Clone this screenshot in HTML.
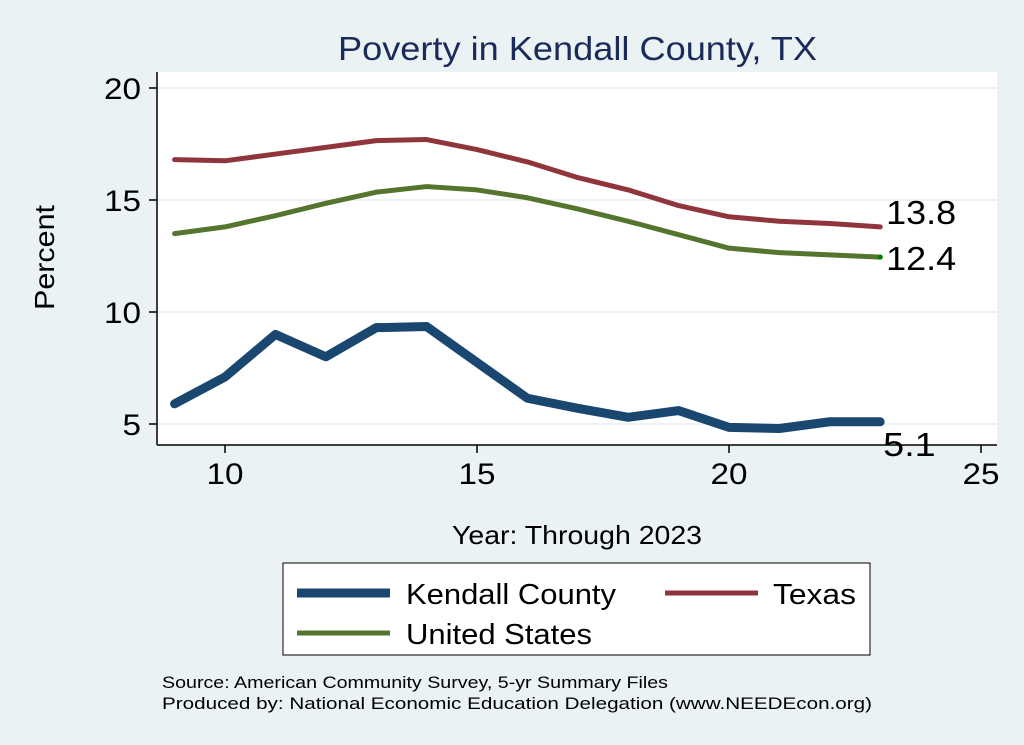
<!DOCTYPE html>
<html><head><meta charset="utf-8"><style>
body{margin:0;background:#eaf2f3;}
svg{display:block;font-family:"Liberation Sans",sans-serif;}
</style></head><body>
<svg id="chart" width="1024" height="745" viewBox="0 0 1024 745">
<rect x="0" y="0" width="1024" height="745" fill="#eaf2f3"/>
<rect x="157" y="72" width="840" height="373" fill="#ffffff"/>
<text x="338" y="60" font-size="33" textLength="479" lengthAdjust="spacingAndGlyphs" fill="#1a2a5a">Poverty in Kendall County, TX</text>
<g id="grid"></g>
<g id="series"></g>
<line x1="157" y1="72" x2="157" y2="445" stroke="#000" stroke-width="1.5"/>
<line x1="157" y1="445" x2="997" y2="445" stroke="#000" stroke-width="1.5"/>
<g id="axes"></g>
<text x="54" y="310" font-size="28" textLength="105" lengthAdjust="spacingAndGlyphs" transform="rotate(-90 54 310)">Percent</text>
<text x="452" y="544" font-size="26" textLength="250" lengthAdjust="spacingAndGlyphs">Year: Through 2023</text>
<g>
<rect x="283" y="563" width="587" height="92" fill="#fff" stroke="#000" stroke-width="1"/>
<line x1="297" y1="593" x2="390" y2="593" stroke="#1a476f" stroke-width="9"/>
<text x="406" y="604" font-size="29" textLength="210" lengthAdjust="spacingAndGlyphs">Kendall County</text>
<line x1="665" y1="593" x2="758" y2="593" stroke="#90353b" stroke-width="5"/>
<text x="773" y="604" font-size="29" textLength="83" lengthAdjust="spacingAndGlyphs">Texas</text>
<line x1="297" y1="633" x2="390" y2="633" stroke="#55752f" stroke-width="5"/>
<text x="406" y="644" font-size="29" textLength="186" lengthAdjust="spacingAndGlyphs">United States</text>
</g>
<text x="162" y="688" font-size="17" textLength="506" lengthAdjust="spacingAndGlyphs">Source: American Community Survey, 5-yr Summary Files</text>
<text x="162" y="709" font-size="17" textLength="710" lengthAdjust="spacingAndGlyphs">Produced by: National Economic Education Delegation (www.NEEDEcon.org)</text>
</svg>
<script>
const years=[9,10,11,12,13,14,15,16,17,18,19,20,21,22,23];
const kendall=[5.9,7.1,9.0,8.0,9.3,9.35,7.75,6.15,5.7,5.3,5.6,4.85,4.8,5.1,5.1];
const texas=[16.8,16.75,17.05,17.35,17.65,17.7,17.25,16.7,16.0,15.45,14.75,14.25,14.05,13.95,13.8];
const us=[13.5,13.8,14.3,14.85,15.35,15.6,15.45,15.1,14.6,14.05,13.45,12.85,12.65,12.55,12.45];
const xTicks=[10,15,20,25];
const yTicks=[5,10,15,20];
const endLabels=["5.1","13.8","12.4"];
const NS="http://www.w3.org/2000/svg";
function xs(v){return 225+(v-10)*50.4;}
function ys(v){return 424-(v-5)*22.4;}
function mk(tag,attrs,parent){const e=document.createElementNS(NS,tag);for(const k in attrs)e.setAttribute(k,attrs[k]);parent.appendChild(e);return e;}
const grid=document.getElementById('grid'),axes=document.getElementById('axes'),ser=document.getElementById('series');
yTicks.forEach(t=>{
 const g=mk('line',{x1:157,x2:997,y1:ys(t),y2:ys(t),stroke:'#eaf2f3','stroke-width':2},grid);
 
 
 const tk=mk('line',{x1:149,x2:157,y1:ys(t),y2:ys(t),stroke:'#000','stroke-width':1.5},axes);
 
 
 const s=String(t);
 const tx=mk('text',{x:141,y:ys(t)+11,'text-anchor':'end','font-size':30,textLength:s.length*18.5,lengthAdjust:'spacingAndGlyphs'},axes);
 tx.textContent=s;
 
 
});
xTicks.forEach(t=>{
 const tk=mk('line',{x1:xs(t),x2:xs(t),y1:445,y2:453,stroke:'#000','stroke-width':1.5},axes);
 
 
 const s=String(t);
 const tx=mk('text',{x:xs(t),y:484,'text-anchor':'middle','font-size':30,textLength:s.length*18.5,lengthAdjust:'spacingAndGlyphs'},axes);
 tx.textContent=s;
 
 
});
function line(vals,color,w,name){
 const p=mk('polyline',{points:vals.map((v,i)=>xs(years[i])+','+ys(v)).join(' '),fill:'none',stroke:color,'stroke-width':w,'stroke-linejoin':'round','stroke-linecap':'round'},ser);
 
 
}
line(texas,'#90353b',5,'texas-line');
line(us,'#55752f',5,'us-line');
line(kendall,'#1a476f',9,'kendall-line');
const last=years.length-1;
const dot=mk('circle',{cx:xs(years[last]),cy:ys(us[last]),r:2.5,fill:'#008000'},ser);


[[kendall,34,3],[texas,-3,6],[us,13,6]].forEach((s,i)=>{
 const lab=endLabels[i];
 const tx=mk('text',{x:xs(years[last])+s[2],y:ys(s[0][last])+s[1],'font-size':33,textLength:lab.length*17.5,lengthAdjust:'spacingAndGlyphs'},ser);
 tx.textContent=lab;
 
 
});
</script>
</body></html>
